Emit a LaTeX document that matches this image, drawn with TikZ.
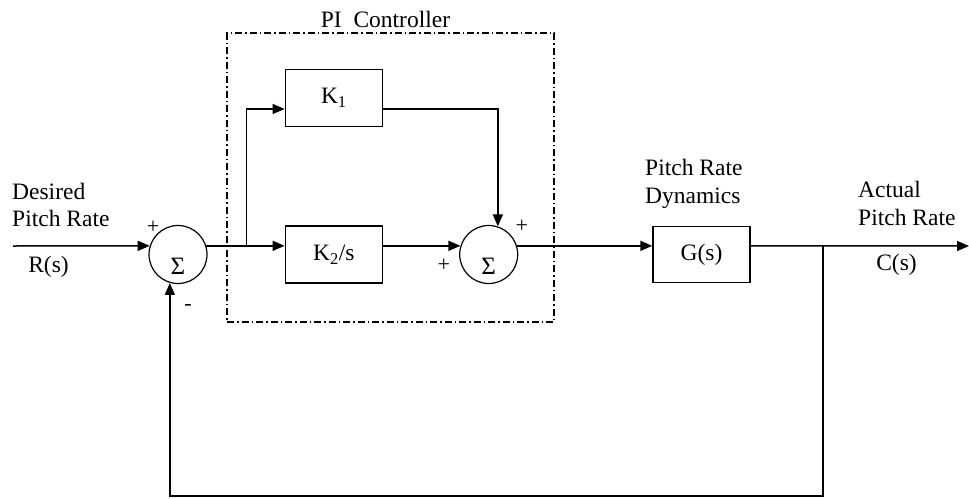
\documentclass[tikz,border=0pt]{standalone}
\usepackage{fontspec}
\setmainfont{Liberation Serif}
\usetikzlibrary{arrows.meta, positioning}

\begin{document}
\begin{tikzpicture}[
    x=1pt, y=-1pt,
    font=\fontsize{23.5}{27.5}\selectfont,
    >={Triangle[length=12pt, width=10pt]},
    % Block styles
    gainblock/.style={
        rectangle,
        draw=black,
        line width=1.5pt,
        minimum width=97pt,
        minimum height=57pt,
        inner sep=0pt
    },
    sumnode/.style={
        circle,
        draw=black,
        line width=1.2pt,
        minimum size=58pt,
        inner sep=0pt,
        label={[yshift=-12pt, font=\fontsize{25}{27}\selectfont]center:Σ}
    },
    piframe/.style={
        rectangle,
        draw=black,
        line width=1.2pt,
        dash pattern=on 7pt off 3pt on 1.5pt off 3pt,
        minimum width=327pt,
        minimum height=289pt
    },
    flow/.style={
        draw=black,
        ->,
        line width=1.5pt
    },
    signaltext/.style={
        align=left,
        inner sep=0pt
    },
    signtext/.style={
        font=\fontsize{22}{24}\selectfont,
        inner sep=0pt
    }
]
    \useasboundingbox (0,0) rectangle (969,498);

    % ==========================================
    % 1. INPUT AND ERROR SUMMATION
    % ==========================================
    \coordinate (in) at (13,246);
    \node[sumnode] (sum1) at (178,254.5) {};
    \node[signaltext, anchor=west] (desired) at (12,205) {Desired\\Pitch Rate};
    \node[signaltext] (rin) at (48.5,267) {R(s)};

    % ==========================================
    % 2. PI CONTROLLER
    % ==========================================
    \node[gainblock, right=77pt of sum1] (K2) {K\textsubscript{2}/s};
    \node[gainblock, above=98pt of K2] (K1) {K\textsubscript{1}};
    \node[sumnode, right=76pt of K2] (sum2) {};
    \coordinate[right=40pt of sum1.17] (split);

    \node[piframe] (pictrl) at (390.5,177.5) {};
    \node[inner sep=0pt, above=4pt of pictrl.north, xshift=-5pt] (pilabel) {PI\ \ Controller};

    % ==========================================
    % 3. PITCH RATE DYNAMICS
    % ==========================================
    \node[gainblock, minimum height=56pt, right=134pt of sum2] (plant) {G(s)};
    \node[signaltext, anchor=west] (dynlabel) at (645,184) {Pitch Rate\\Dynamics};

    % ==========================================
    % 4. OUTPUT
    % ==========================================
    \coordinate (tap) at (823,246);
    \coordinate (out) at (969,246);
    \node[signaltext, anchor=west] (actual) at (858,203.5) {Actual\\Pitch Rate};
    \node[signaltext] (cout) at (896.5,265) {C(s)};

    % Signs at the summing junctions
    \node[signtext] (s1plus) at ([shift={(-25,-27)}]sum1.center) {+};
    \node[signtext] (s1minus) at ([shift={(10,52.5)}]sum1.center) {-};
    \node[signtext] (s2plusa) at ([shift={(-45,10.5)}]sum2.center) {+};
    \node[signtext] (s2plusb) at ([shift={(33,-28.5)}]sum2.center) {+};

    % ==========================================
    % CONNECTIONS
    % ==========================================
    \draw[flow] (in) -- (sum1.163);
    \draw[flow] (sum1.17) -- (K2.west |- sum1.17);
    \draw[flow] (split) |- ([yshift=-11pt]K1.west);
    \draw[flow] ([yshift=-11pt]K1.east) -| (sum2.72);
    \draw[flow] (K2.east |- sum1.17) -- (sum2.163);
    \draw[flow] (sum2.17) -- (plant.west |- sum2.17);
    \draw[flow] (plant.east |- sum2.17) -- (out);

    % Feedback: output -> error summation (under the whole diagram)
    \draw[flow] (tap) -- ++(0,250) -| (sum1.254);

\end{tikzpicture}
\end{document}
